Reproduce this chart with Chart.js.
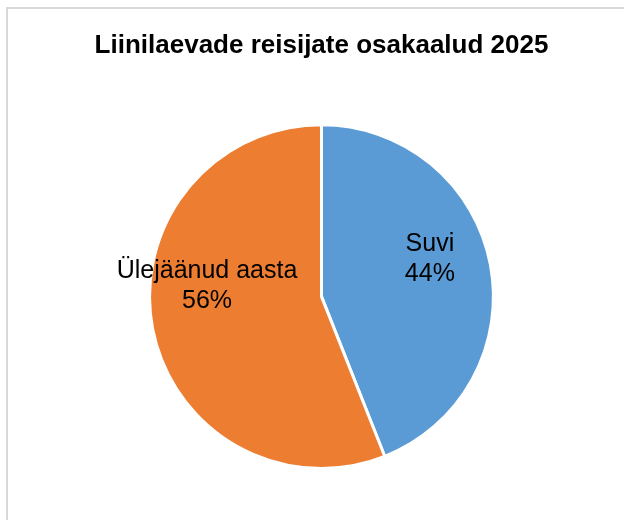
<!DOCTYPE html>
<html>
<head>
<meta charset="utf-8">
<script src="https://cdn.jsdelivr.net/npm/chart.js@4"></script>
<style>
  html, body { margin: 0; padding: 0; background: #fff; overflow: hidden; }
  #frame {
    position: absolute; left: 6px; top: 7px; width: 700px; height: 600px;
    border: 2px solid #d9d9d9; box-sizing: border-box;
  }
  #wrap { position: absolute; left: 0; top: 0; width: 624px; height: 520px; }
</style>
</head>
<body>
<div id="frame"></div>
<div id="wrap"><canvas id="chart" width="624" height="520"></canvas></div>
<script>
// Andmed
const pealkiri = 'Liinilaevade reisijate osakaalud 2025';
const kategooriad = ['Suvi', 'Ülejäänud aasta'];
const osakaalud = [44, 56];
const varvid = ['#5B9BD5', '#ED7D31'];

// Sildi nihe nurgas (kraadides) ja kaugus keskmest (raadiuse osa)
const sildiNurgaNihe = [-9, 17];
const sildiKaugus = 0.67;

const sildid = {
  id: 'sildid',
  afterDatasetsDraw(chart) {
    const ctx = chart.ctx;
    const meta = chart.getDatasetMeta(0);
    ctx.save();
    ctx.font = '25px "Liberation Sans", Arial, sans-serif';
    ctx.fillStyle = '#000';
    ctx.textAlign = 'center';
    ctx.textBaseline = 'middle';
    meta.data.forEach((arc, i) => {
      const p = arc.getProps(['x', 'y', 'startAngle', 'endAngle', 'outerRadius'], true);
      const nurk = (p.startAngle + p.endAngle) / 2 + sildiNurgaNihe[i] * Math.PI / 180;
      const r = p.outerRadius * sildiKaugus;
      const x = p.x + Math.cos(nurk) * r;
      const y = p.y + Math.sin(nurk) * r;
      ctx.fillText(kategooriad[i], x, y - 13);
      ctx.fillText(osakaalud[i] + '%', x, y + 17);
    });
    ctx.restore();
  }
};

new Chart(document.getElementById('chart'), {
  type: 'pie',
  data: {
    labels: kategooriad,
    datasets: [{
      data: osakaalud,
      backgroundColor: varvid,
      borderColor: '#ffffff',
      borderWidth: 3,
      hoverBorderWidth: 3,
      hoverOffset: 0
    }]
  },
  options: {
    responsive: false,
    animation: false,
    layout: {
      padding: { top: 0, left: 19, right: 0, bottom: 50 }
    },
    plugins: {
      legend: { display: false },
      tooltip: { enabled: false },
      title: {
        display: true,
        text: pealkiri,
        color: '#000',
        font: { family: '"Liberation Sans", Arial, sans-serif', size: 26, weight: 'bold', lineHeight: 1.2 },
        padding: { top: 30, bottom: 62 }
      }
    }
  },
  plugins: [sildid]
});
</script>
</body>
</html>
